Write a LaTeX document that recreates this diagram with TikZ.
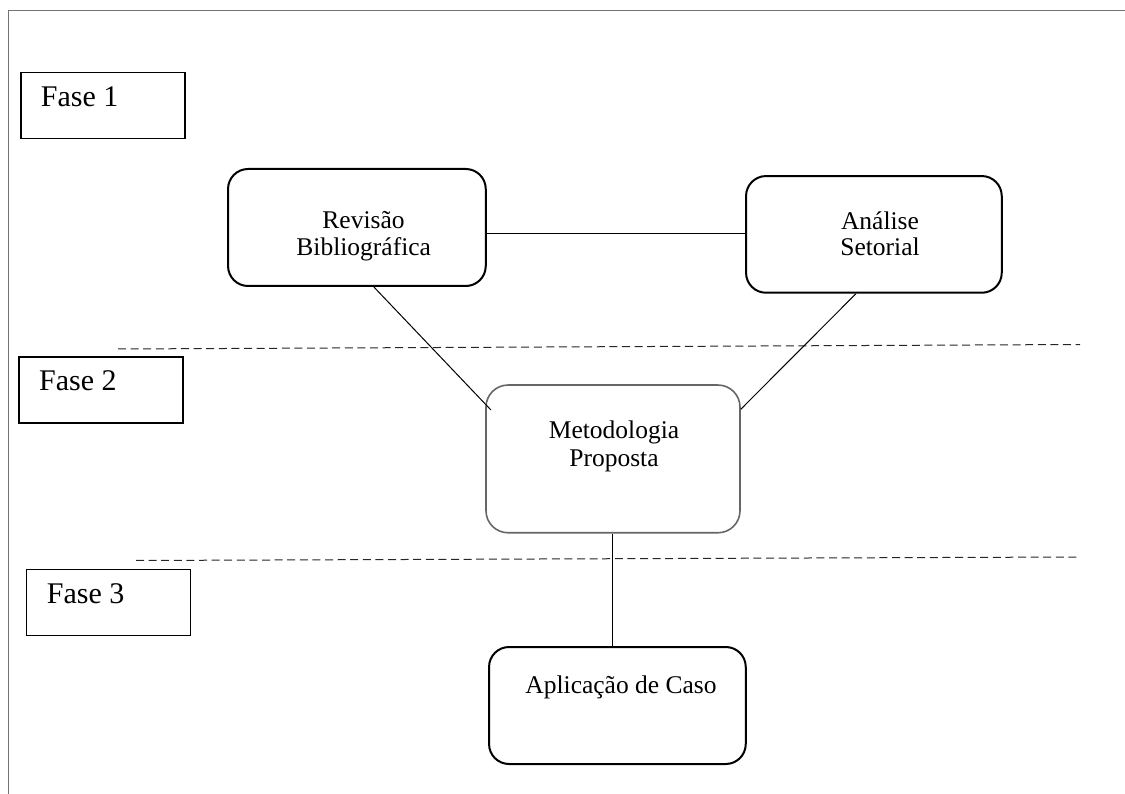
\documentclass[tikz,border=0pt]{standalone}
\usepackage{fontspec}
\setmainfont{Liberation Serif}
\usetikzlibrary{calc}
\begin{document}
\begin{tikzpicture}[x=1pt,y=-1pt,
  fasebox/.style={draw=black,line width=1.3pt,minimum width=164pt,minimum height=66pt,inner sep=0pt},
  fasetext/.style={anchor=base west,inner sep=0pt,font=\fontsize{30}{32}\selectfont},
  stagebox/.style={draw=black,line width=2pt,rounded corners=20pt,inner sep=0pt,minimum width=256pt,minimum height=117pt},
  methbox/.style={draw=black!60,line width=1.6pt,rounded corners=22pt,inner sep=0pt,minimum width=254pt,minimum height=147.7pt},
  boxtext/.style={anchor=base,inner sep=0pt,font=\fontsize{25.5}{27}\selectfont},
  link/.style={draw=black,line width=1pt},
  phaseline/.style={draw=black!85,line width=1pt,dash pattern=on 8pt off 4.6pt}]
\useasboundingbox (0,0) rectangle (1125,794);
% frame
\coordinate (ftl) at (8.3,10.5);
\coordinate (ftr) at (1125,10.5);
\coordinate (fbl) at (8.3,794);
\draw[black!55,line width=1.5pt] (ftr) -- (ftl) -- (fbl);
% phase boxes
\node[fasebox] (f1) at (102.9,105.7) {};
\node[fasebox] (f2) at (101,390) {};
\node[fasebox] (f3) at (108.7,602.4) {};
\node[fasetext] (f1t) at (40.7,106.7) {Fase 1};
\node[fasetext] (f2t) at (39,391) {Fase 2};
\node[fasetext] (f3t) at (46.7,603) {Fase 3};
% stage boxes
\node[stagebox,minimum width=257.7pt] (rev) at (356.9,227.5) {};
\node[stagebox,minimum width=255.7pt,minimum height=116.7pt] (ana) at (873.9,234.4) {};
\node[methbox] (met) at (613,458.9) {};
\node[stagebox,minimum width=256.7pt] (apl) at (617.4,705.5) {};
\node[boxtext] (revA) at (363.5,229) {Revisão};
\node[boxtext] (revB) at (363.7,255.5) {Bibliográfica};
\node[boxtext] (anaA) at (880,230) {Análise};
\node[boxtext] (anaB) at (880,256) {Setorial};
\node[boxtext] (metA) at (614,438) {Metodologia};
\node[boxtext] (metB) at (614,466) {Proposta};
\node[boxtext] (aplA) at (621,693) {Aplicação de Caso};
% dashed phase separators
\coordinate (d1a) at (118,349);
\coordinate (d1b) at (1080,344.5);
\coordinate (d2a) at (136,560.5);
\coordinate (d2b) at (1077,557);
\draw[phaseline] (d1a) -- (d1b);
\draw[phaseline] (d2a) -- (d2b);
% connectors
\draw[link] (rev.east |- 0,234) -- (ana.west |- 0,234);
\draw[link] ($(rev.south)+(17,0)$) -- ($(met.north west)+(5.7,25.7)$);
\draw[link] ($(ana.south)+(-18,0)$) -- ($(met.north east)+(0,25)$);
\draw[link] (met.south -| 612.7,0) -- (apl.north -| 612.7,0);
\end{tikzpicture}
\end{document}
